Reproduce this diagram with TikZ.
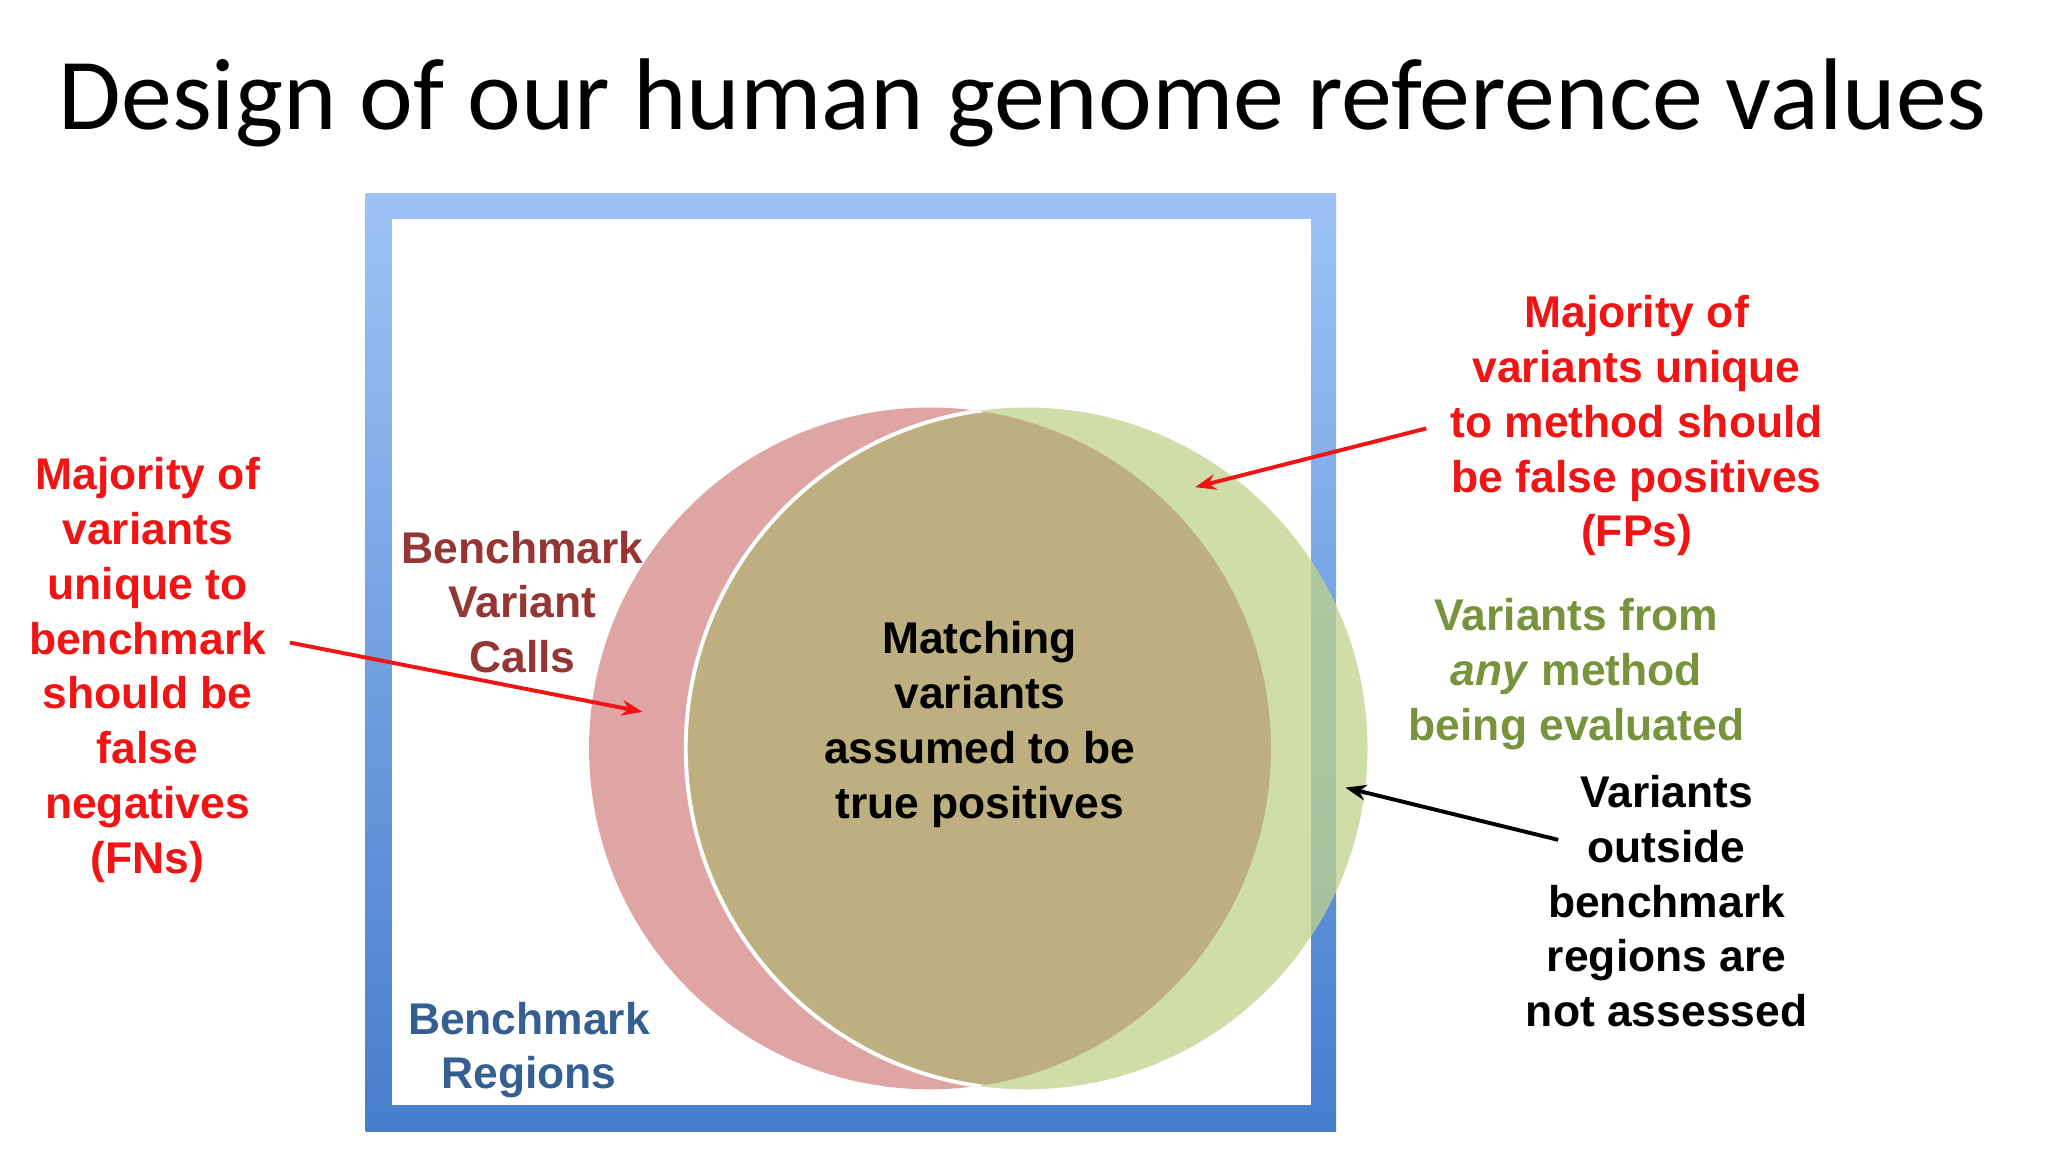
\documentclass[tikz,border=0pt]{standalone}
\usepackage{fontspec}
\setmainfont{Liberation Sans}
\newfontfamily\titlefont{Carlito}
\usetikzlibrary{arrows.meta}
\definecolor{redtxt}{RGB}{240,20,20}
\definecolor{darkred}{RGB}{148,54,52}
\definecolor{greentxt}{RGB}{119,147,60}
\definecolor{bluetxt}{RGB}{54,95,145}
\definecolor{redfill}{RGB}{213,136,136}
\definecolor{greenfill}{RGB}{192,211,139}
\definecolor{lensfill}{RGB}{190,175,128}
\definecolor{frametop}{RGB}{157,195,245}
\definecolor{framebot}{RGB}{70,125,205}
\tikzset{
  lbl/.style={align=center, font=\bfseries\fontsize{34}{42}\selectfont},
  arr/.style={line width=3pt, -{Stealth[length=16pt,width=12pt]}}
}
\begin{document}
\begin{tikzpicture}[x=1pt,y=-1pt]
\useasboundingbox (0,0) rectangle (1568,882);
\fill[white] (0,0) rectangle (1568,882);
\node[font=\titlefont\fontsize{78}{90}\selectfont] (title) at (783,79) {Design of our human genome reference values};
% frame
\shade[top color=frametop, bottom color=framebot] (280,148) rectangle (1023,866);
\fill[white] (300,168) rectangle (1004,846);
% circles
\fill[redfill, fill opacity=0.75] (712,573) circle (261);
\fill[greenfill, fill opacity=0.75] (786,573) circle (261);
\begin{scope}
  \clip (712,573) circle (261);
  \fill[lensfill] (786,573) circle (261);
  \draw[white, line width=3pt] (786,573) circle (261);
\end{scope}
% texts
\node[lbl, text=redtxt] (fn) at (113,513) {Majority of\\variants\\unique to\\benchmark\\should be\\false\\negatives\\(FNs)};
\node[lbl, text=redtxt] (fp) at (1253,326) {Majority of\\variants unique\\to method should\\be false positives\\(FPs)};
\node[lbl, text=darkred] (bvc) at (400,461) {Benchmark\\Variant\\Calls};
\node[lbl, text=black] (match) at (750,554.5) {Matching\\variants\\assumed to be\\true positives};
\node[lbl, text=greentxt] (any) at (1207,516) {Variants from\\\textit{any} method\\being evaluated};
\node[lbl, text=black] (out) at (1276,690) {Variants\\outside\\benchmark\\regions are\\not assessed};
\node[lbl, text=bluetxt] (br) at (405,804) {Benchmark\\Regions};
% arrows
\coordinate (a1s) at (222,492);
\coordinate (a1e) at (492,545);
\coordinate (a2s) at (1092,328);
\coordinate (a2e) at (915,373);
\coordinate (a3s) at (1193,643);
\coordinate (a3e) at (1030,603);
\draw[arr, redtxt] (a1s) -- (a1e);
\draw[arr, redtxt] (a2s) -- (a2e);
\draw[arr, black] (a3s) -- (a3e);
\end{tikzpicture}
\end{document}
